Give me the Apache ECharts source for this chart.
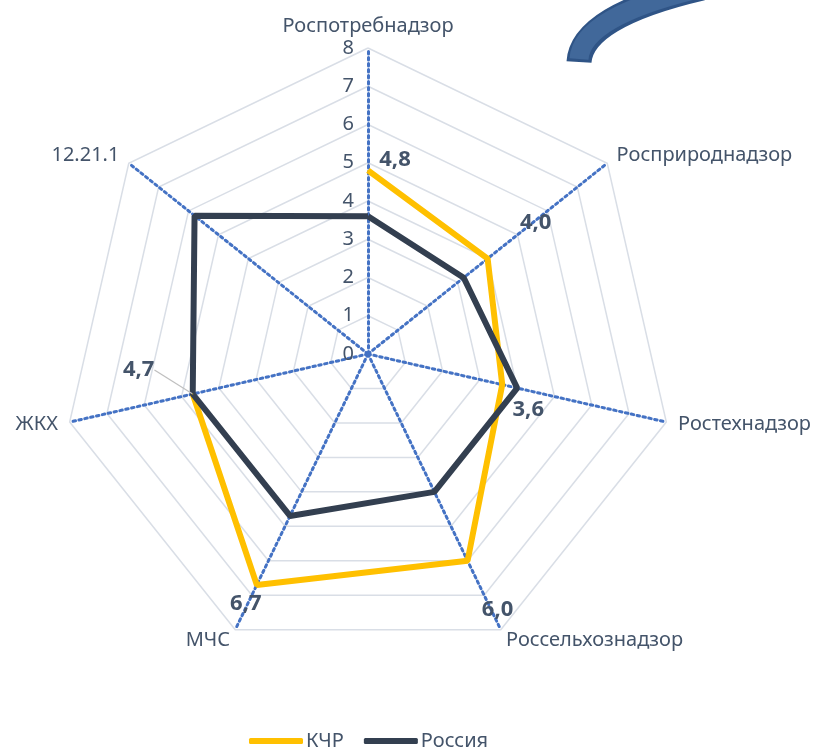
<!DOCTYPE html>
<html>
<head>
<meta charset="utf-8">
<script src="https://cdn.jsdelivr.net/npm/echarts@6/dist/echarts.min.js"></script>
<style>
    html, body { margin: 0; padding: 0; background: #fff; }
    #main { width: 819px; height: 747px; }
</style>
</head>
<body>
<div id="main"></div>
<script>
    // данные
    var indicators = ['Роспотребнадзор', 'Росприроднадзор', 'Ростехнадзор', 'Россельхознадзор', 'МЧС', 'ЖКХ', '12.21.1'];
    var kchr = [4.8, 4.0, 3.6, 6.0, 6.7, 4.7, null];
    var russia = [3.6, 3.2, 4.0, 4.0, 4.7, 4.7, 5.8];
    var axisMax = 8;

    // смещения подписей КЧР
    var labelShift = [[27, -11], [48, -36], [26, 25], [30, 49], [-11, 19], [-54, -24]];

    var textColor = '#44546A';
    var font = 'Noto Sans';
    var cx = 368, cy = 354, R = 306;

    // radar рисуется против часовой стрелки, поэтому порядок для сетки разворачиваем
    var radarInd = [indicators[0]].concat(indicators.slice(1).reverse()).map(function (n) {
        return { name: n, min: 0, max: axisMax };
    });

    function toPolar(arr) {
        var pts = arr.map(function (v, i) {
            return [v == null ? '-' : v, i];
        });
        pts.push({ value: [arr[0] == null ? '-' : arr[0], arr.length], label: { show: false } });
        return pts;
    }

    var kchrData = toPolar(kchr);
    kchrData[5] = {
        value: kchrData[5],
        labelLine: { show: true, lineStyle: { color: '#BFBFBF', width: 1.2 } }
    };

    var myChart = echarts.init(document.getElementById('main'));

    var option = {
        animation: false,
        backgroundColor: '#fff',
        textStyle: { fontFamily: font },
        legend: {
            left: 244,
            top: 726,
            icon: 'roundRect',
            itemWidth: 54,
            itemHeight: 6,
            itemGap: 20,
            textStyle: { fontSize: 20, color: textColor, fontFamily: font, padding: [0, 0, 0, -2] },
            data: ['КЧР', 'Россия']
        },
        radar: {
            center: [cx, cy],
            radius: R,
            startAngle: 90,
            splitNumber: axisMax,
            shape: 'polygon',
            indicator: radarInd,
            nameGap: 12,
            axisName: { color: textColor, fontSize: 20, fontFamily: font },
            axisLine: { lineStyle: { color: '#4472C4', width: 3, type: [2.5, 3.5] } },
            splitLine: { lineStyle: { color: '#D9DEE6', width: 1.5 } },
            splitArea: { show: false },
            axisLabel: { show: false },
            axisTick: { show: false }
        },
        polar: {
            center: [cx, cy],
            radius: R
        },
        angleAxis: {
            type: 'value',
            min: 0,
            max: indicators.length,
            startAngle: 90,
            clockwise: true,
            show: false
        },
        radiusAxis: {
            type: 'value',
            min: 0,
            max: axisMax,
            interval: 1,
            axisLine: { show: false },
            axisTick: { show: false },
            splitLine: { show: false },
            axisLabel: { show: true, color: textColor, fontSize: 20, margin: 14, fontFamily: font }
        },
        graphic: [
            {
                type: 'bezierCurve',
                shape: { x1: 579, y1: 62, cpx1: 582, cpy1: 16, x2: 702, y2: -12 },
                style: { stroke: '#2F5486', lineWidth: 25, fill: null }
            },
            {
                type: 'bezierCurve',
                shape: { x1: 579, y1: 59, cpx1: 582, cpy1: 16, x2: 702, y2: -12 },
                style: { stroke: '#41689A', lineWidth: 19, fill: null }
            }
        ],
        series: [
            {
                name: 'КЧР',
                type: 'line',
                coordinateSystem: 'polar',
                data: kchrData,
                connectNulls: false,
                symbol: 'circle',
                symbolSize: 1,
                itemStyle: { color: '#FFC000' },
                lineStyle: { color: '#FFC000', width: 6 },
                label: {
                    show: true,
                    position: 'inside',
                    fontSize: 22,
                    fontWeight: 'bold',
                    color: textColor,
                    fontFamily: font,
                    formatter: function (p) {
                        return p.value[0].toFixed(1).replace('.', ',');
                    }
                },
                labelLayout: function (p) {
                    var s = labelShift[p.dataIndex] || [0, 0];
                    return { dx: s[0], dy: s[1] };
                }
            },
            {
                name: 'Россия',
                type: 'line',
                coordinateSystem: 'polar',
                data: toPolar(russia),
                symbol: 'none',
                itemStyle: { color: '#333F50' },
                lineStyle: { color: '#333F50', width: 6 }
            }
        ]
    };

    myChart.setOption(option);
</script>
</body>
</html>
